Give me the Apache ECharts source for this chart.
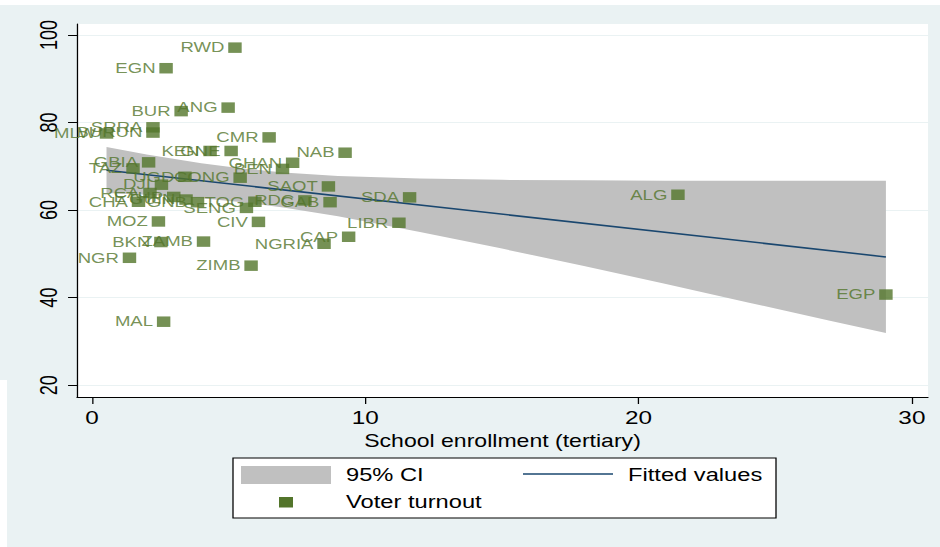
<!DOCTYPE html>
<html>
<head>
<meta charset="utf-8">
<script src="https://cdn.jsdelivr.net/npm/echarts@6/dist/echarts.min.js"></script>
<style>
  html, body { margin: 0; padding: 0; background: #ffffff; overflow: hidden; }
  /* Drawn at 734px wide and widened to the 940px page, giving the wide-glyph look of the graph */
  #chart { position: absolute; left: 0; top: 0; width: 734px; height: 547px;
           transform-origin: 0 0; transform: scaleX(1.2807); }
</style>
</head>
<body>
<div id="chart"></div>
<script>
// Country codes, tertiary school enrollment (%) and voter turnout (%)
const countries = ['RWD','EGN','BUR','ANG','SRRA','BURUN','MLW','CMR','KEN','GNE','NAB','GHAN','BEN',
  'GBIA','TAZ','UGD','CONG','DJI','SAOT','RCA','CHA','ETHP','GUIN','GNB','SENG','TOG','RDC','GAB',
  'SDA','ALG','MOZ','CIV','LIBR','CAP','NGRIA','BKN','ZAMB','NGR','ZIMB','MAL','EGP'];
const enrollment = [5.23,2.71,3.26,4.98,2.23,2.23,0.53,6.48,4.32,5.09,9.26,7.34,6.97,
  2.07,1.50,3.40,5.42,2.54,8.65,2.12,1.70,2.99,3.44,3.86,5.65,5.96,7.79,8.71,
  11.62,21.44,2.43,6.09,11.23,9.39,8.49,2.52,4.08,1.37,5.82,2.62,29.05];
const turnout = [97.1,92.4,82.6,83.4,78.9,77.7,77.5,76.6,73.5,73.5,73.1,70.8,69.4,
  70.9,69.5,67.6,67.4,65.8,65.4,63.9,61.9,63.0,62.4,61.8,60.5,61.9,62.2,61.8,
  62.9,63.5,57.4,57.3,57.1,53.9,52.3,52.7,52.8,49.1,47.3,34.5,40.7];

// Linear fit and its 95% confidence band
const fitX = [0.53, 29.05];
const fitY = [69.1, 49.3];
const ciX     = [0.53, 2, 4, 5.5, 7, 9, 12, 15, 18, 21, 24, 27, 29.05];
const ciLower = [63.9, 63.5, 62.7, 61.8, 60.6, 58.6, 55.0, 51.2, 47.2, 43.1, 38.9, 34.7, 31.9];
const ciUpper = [74.4, 72.7, 70.7, 69.5, 68.6, 67.8, 67.2, 66.9, 66.8, 66.7, 66.7, 66.7, 66.7];

// Axis ticks
const xTicks = [0, 10, 20, 30];
const yTicks = [20, 40, 60, 80, 100];

const FONT = 'Liberation Sans, Arial, Helvetica, sans-serif';
const GREEN = '#53752b';
const NAVY = '#1a476f';
const BAND = '#c0c0c0';
const SX = 1.2807; // page px per drawing px, horizontally

const chart = echarts.init(document.getElementById('chart'), null, { renderer: 'svg' });

const option = {
  backgroundColor: '#eaf2f3',
  animation: false,
  grid: {
    left: 77 / SX, right: 734 - 928 / SX, top: 24, bottom: 150,
    show: true, backgroundColor: '#ffffff', borderWidth: 0
  },
  xAxis: {
    type: 'value', min: -0.55, max: 30.59,
    axisLine: { show: true, onZero: false, lineStyle: { color: '#000', width: 1 } },
    axisTick: { show: true, length: 7, customValues: xTicks, lineStyle: { color: '#000' } },
    axisLabel: { customValues: xTicks, fontSize: 19, fontFamily: FONT, color: '#000', margin: 11 },
    splitLine: { show: false },
    name: 'School enrollment (tertiary)', nameLocation: 'middle', nameGap: 31,
    nameTextStyle: { fontSize: 18, fontFamily: FONT, color: '#000' }
  },
  yAxis: {
    type: 'value', min: 17.3, max: 102.5,
    axisLine: { show: true, onZero: false, lineStyle: { color: '#000', width: 1 } },
    axisTick: { show: true, length: 7, customValues: yTicks, lineStyle: { color: '#000' } },
    axisLabel: { customValues: yTicks, rotate: 90, fontSize: 18, fontFamily: FONT, color: '#000', margin: 13 },
    splitLine: { show: true, lineStyle: { color: '#eaf2f3', width: 1 } }
  },
  series: [
    {
      // confidence band as one polygon: upper edge left to right, lower edge back
      name: '95% CI', type: 'custom', silent: true, z: 1, clip: true,
      data: [0],
      renderItem: (params, api) => {
        const pts = ciX.map((x, i) => api.coord([x, ciUpper[i]]));
        for (let i = ciX.length - 1; i >= 0; i--) pts.push(api.coord([ciX[i], ciLower[i]]));
        return { type: 'polygon', shape: { points: pts }, style: { fill: BAND } };
      }
    },
    {
      name: 'Fitted values', type: 'line', symbol: 'none', silent: true, z: 2,
      lineStyle: { color: NAVY, width: 1.5 },
      data: fitX.map((x, i) => [x, fitY[i]])
    },
    {
      name: 'Voter turnout', type: 'scatter', symbol: 'rect', symbolSize: 10.5, z: 3,
      itemStyle: { color: GREEN },
      label: {
        show: true, position: 'left', distance: 3, formatter: '{b}',
        fontSize: 14.5, fontFamily: FONT, color: GREEN
      },
      data: countries.map((c, i) => ({ name: c, value: [enrollment[i], turnout[i]] }))
    }
  ],
  graphic: [
    // white page margins
    { type: 'rect', shape: { x: 0, y: 0, width: 734, height: 5 }, style: { fill: '#ffffff' }, silent: true },
    { type: 'rect', shape: { x: 0, y: 380, width: 7 / SX, height: 167 }, style: { fill: '#ffffff' }, silent: true },
    // legend
    {
      type: 'group', silent: true,
      children: [
        { type: 'rect', shape: { x: 233 / SX, y: 458, width: 543 / SX, height: 60 },
          style: { fill: '#ffffff', stroke: '#000', lineWidth: 1 } },
        { type: 'rect', shape: { x: 241 / SX, y: 466, width: 90 / SX, height: 18 }, style: { fill: BAND } },
        { type: 'text', x: 346 / SX, y: 475,
          style: { text: '95% CI', fontSize: 18.5, fontFamily: FONT, fill: '#000', textVerticalAlign: 'middle' } },
        { type: 'line', shape: { x1: 523 / SX, y1: 474, x2: 613 / SX, y2: 474 },
          style: { stroke: NAVY, lineWidth: 1.5 } },
        { type: 'text', x: 628 / SX, y: 475,
          style: { text: 'Fitted values', fontSize: 18.5, fontFamily: FONT, fill: '#000', textVerticalAlign: 'middle' } },
        { type: 'rect', shape: { x: 279 / SX, y: 497, width: 14 / SX, height: 10.5 }, style: { fill: GREEN } },
        { type: 'text', x: 346 / SX, y: 502,
          style: { text: 'Voter turnout', fontSize: 18.5, fontFamily: FONT, fill: '#000', textVerticalAlign: 'middle' } }
      ]
    }
  ]
};

chart.setOption(option);
</script>
</body>
</html>
